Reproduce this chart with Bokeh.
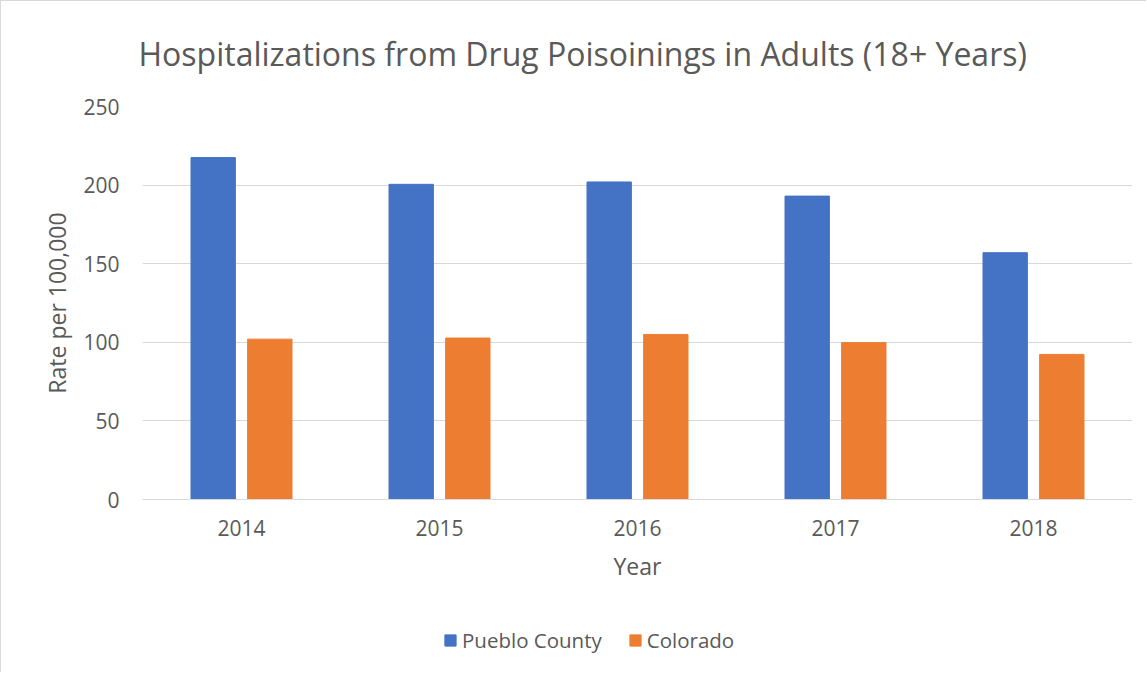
from bokeh.plotting import figure
from bokeh.layouts import column
from bokeh.models import (FactorRange, Range1d, SingleIntervalTicker, Legend, LegendItem,
                          ColumnDataSource)
from bokeh.transform import dodge
from bokeh.embed import file_html
from bokeh.resources import INLINE

years = ["2014", "2015", "2016", "2017", "2018"]
pueblo = [217.5, 200.5, 202.0, 193.0, 157.0]
colorado = [102.0, 102.7, 105.0, 99.8, 92.3]
series_names = ["Pueblo County", "Colorado"]
title_text = "Hospitalizations from Drug Poisoinings in Adults (18+ Years)"

BLUE = "#4472C4"
ORANGE = "#ED7D31"
TXT = "#595959"
GRID = "#d9d9d9"
FONT = "Open Sans"

src = ColumnDataSource(dict(year=years, pueblo=pueblo, colorado=colorado))

# ---------------- main chart ----------------
p = figure(x_range=FactorRange(factors=years, range_padding=0),
           y_range=Range1d(0, 250),
           width=1146, height=599,
           output_backend="svg", toolbar_location=None,
           min_border_left=141, min_border_right=15,
           min_border_top=104, min_border_bottom=101)
p.styles = {"border-left": "1px solid #d9d9d9", "border-top": "1px solid #d9d9d9"}

r1 = p.vbar(x=dodge("year", -0.143, range=p.x_range), top="pueblo", width=0.224,
            source=src, fill_color=BLUE, line_color=BLUE)
r2 = p.vbar(x=dodge("year", 0.143, range=p.x_range), top="colorado", width=0.224,
            source=src, fill_color=ORANGE, line_color=ORANGE)

p.outline_line_color = None
p.background_fill_color = "white"
p.border_fill_color = "white"

p.xgrid.grid_line_color = None
p.ygrid.grid_line_color = GRID
p.ygrid.grid_line_width = 1

p.yaxis.ticker = SingleIntervalTicker(interval=50)
p.yaxis.axis_line_color = None
p.yaxis.major_tick_line_color = None
p.yaxis.minor_tick_line_color = None
p.yaxis.major_tick_out = 0
p.yaxis.minor_tick_out = 0
p.yaxis.major_label_standoff = 23
p.yaxis.axis_label = "Rate per 100,000"
p.yaxis.axis_label_standoff = 7

p.xaxis.axis_line_color = GRID
p.xaxis.major_tick_line_color = None
p.xaxis.minor_tick_line_color = None
p.xaxis.major_tick_out = 0
p.xaxis.minor_tick_out = 0
p.xaxis.major_label_standoff = 20
p.xaxis.axis_label = "Year"
p.xaxis.axis_label_standoff = 11

for ax in (p.xaxis, p.yaxis):
    ax.major_label_text_font = FONT
    ax.major_label_text_font_size = "21px"
    ax.major_label_text_color = TXT
    ax.axis_label_text_font = FONT
    ax.axis_label_text_font_size = "23px"
    ax.axis_label_text_color = TXT
    ax.axis_label_text_font_style = "normal"

p.title.text = title_text
p.title.text_font = FONT
p.title.text_font_size = "32px"
p.title.text_font_style = "normal"
p.title.text_color = TXT
p.title.align = "left"
p.title.offset = -4
p.title.vertical_align = "top"
p.title.standoff = 60

# ---------------- legend strip ----------------
# same series as hidden renderers, only to feed the legend below the chart
q = figure(x_range=FactorRange(factors=years, range_padding=0),
           y_range=Range1d(0, 250),
           width=1146, height=73, output_backend="svg", toolbar_location=None,
           x_axis_type=None, y_axis_type=None,
           min_border_left=0, min_border_right=0, min_border_top=0, min_border_bottom=0)
q.styles = {"border-left": "1px solid #d9d9d9"}
q.outline_line_color = None
q.xgrid.grid_line_color = None
q.ygrid.grid_line_color = None
q.background_fill_color = "white"
q.border_fill_color = "white"

k1 = q.vbar(x=dodge("year", -0.143, range=q.x_range), top="pueblo", width=0.224,
            source=src, fill_color=BLUE, line_color=BLUE)
k2 = q.vbar(x=dodge("year", 0.143, range=q.x_range), top="colorado", width=0.224,
            source=src, fill_color=ORANGE, line_color=ORANGE)
k1.visible = False
k2.visible = False

legend = Legend(items=[LegendItem(label=series_names[0], renderers=[k1]),
                       LegendItem(label=series_names[1], renderers=[k2])],
                orientation="horizontal", location=(301, 18),
                padding=0, margin=0, spacing=26, label_standoff=5,
                glyph_width=14, glyph_height=14,
                border_line_color=None, background_fill_alpha=0,
                inactive_fill_alpha=0,
                label_text_font=FONT, label_text_font_size="20.5px",
                label_text_color=TXT)
q.add_layout(legend, "center")

layout = column(p, q, spacing=0)
open("out.html", "w").write(file_html(layout, INLINE))
